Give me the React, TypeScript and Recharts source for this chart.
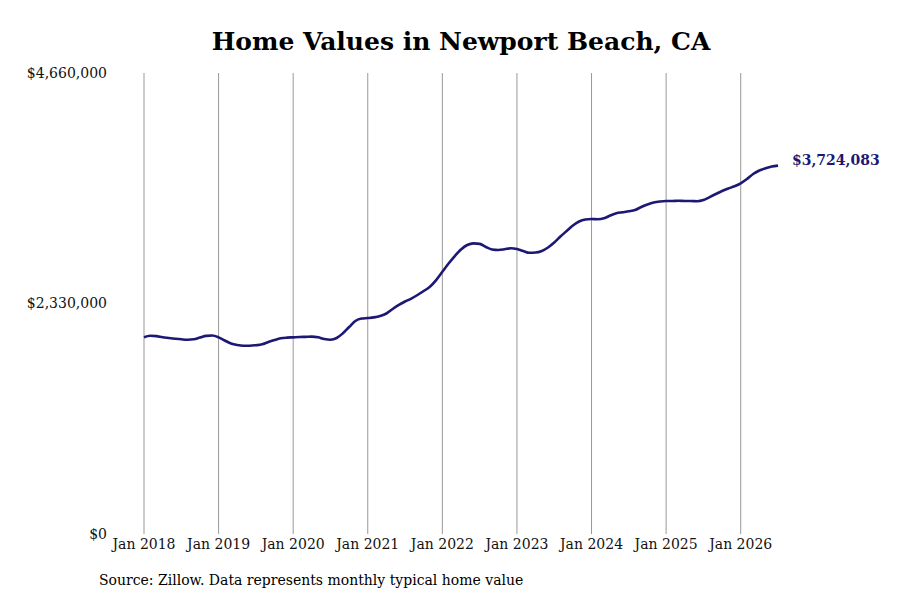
import React from "react";
import { LineChart, Line, XAxis, YAxis, ReferenceLine } from "recharts";

const startYear = 2018;
// Monthly typical home value, Jan 2018 .. Jul 2026
const values: number[] = [
  1988000, 2004000, 2000000, 1988000, 1981000, 1974000, 1968000, 1964000, 1968000, 1986000, 2003000, 2006000,
  1988000, 1956000, 1925000, 1910000, 1903000, 1903000, 1908000, 1917000, 1941000, 1961000, 1978000, 1985000,
  1988000, 1991000, 1993000, 1995000, 1988000, 1971000, 1964000, 1981000, 2029000, 2092000, 2153000, 2178000,
  2183000, 2190000, 2204000, 2229000, 2274000, 2315000, 2350000, 2380000, 2416000, 2456000, 2500000, 2567000,
  2651000, 2734000, 2810000, 2876000, 2921000, 2938000, 2933000, 2901000, 2876000, 2871000, 2878000, 2888000,
  2881000, 2861000, 2843000, 2845000, 2861000, 2896000, 2946000, 3007000, 3063000, 3118000, 3159000, 3179000,
  3184000, 3181000, 3191000, 3219000, 3242000, 3252000, 3262000, 3275000, 3305000, 3331000, 3351000, 3361000,
  3366000, 3366000, 3368000, 3366000, 3366000, 3364000, 3376000, 3406000, 3437000, 3467000, 3492000, 3515000,
  3545000, 3588000, 3639000, 3674000, 3697000, 3715000, 3724083,
];

const xTicks: number[] = [0, 12, 24, 36, 48, 60, 72, 84, 96];
const xTickLabels: string[] = [
  "Jan 2018", "Jan 2019", "Jan 2020", "Jan 2021", "Jan 2022",
  "Jan 2023", "Jan 2024", "Jan 2025", "Jan 2026",
];
const yTicks: number[] = [0, 2330000, 4660000];

const data = values.map((v, i) => ({ m: i, value: v }));
const lastIndex = values.length - 1;

const fmtMoney = (v: number) => "$" + Math.round(v).toLocaleString("en-US");
const SERIF = "'DejaVu Serif', serif";
const LINE_COLOR = "#1c1873";

const EndLabel = (props: any) => {
  const { x, y, index } = props;
  if (index !== lastIndex) return null;
  return (
    <text
      x={x + 14}
      y={y - 1}
      fill={LINE_COLOR}
      fontFamily={SERIF}
      fontWeight="bold"
      fontSize={14}
    >
      {fmtMoney(values[lastIndex])}
    </text>
  );
};

export default function App() {
  return (
    <div style={{ position: "absolute", left: 0, top: 0, width: 900, height: 600, background: "#fff" }}>
      <div
        style={{
          position: "absolute",
          left: 0,
          top: 26,
          width: 922,
          textAlign: "center",
          fontFamily: SERIF,
          fontWeight: "bold",
          fontSize: 25,
          color: "#000",
          lineHeight: "32px",
        }}
      >
        Home Values in Newport Beach, CA
      </div>
      <LineChart
        width={900}
        height={600}
        data={data}
        margin={{ top: 73, right: 122, bottom: 36, left: 0 }}
        style={{ fontFamily: SERIF }}
      >
        <XAxis
          dataKey="m"
          type="number"
          domain={[0, lastIndex]}
          ticks={xTicks}
          tickFormatter={(m: number) => xTickLabels[xTicks.indexOf(m)] ?? ""}
          axisLine={false}
          tickLine={false}
          tickSize={0}
          tickMargin={5}
          height={30}
          interval={0}
          tick={{ fill: "#111", fontSize: 14, fontFamily: SERIF }}
        />
        <YAxis
          type="number"
          domain={[0, 4660000]}
          ticks={yTicks}
          tickFormatter={fmtMoney}
          axisLine={false}
          tickLine={false}
          tickSize={0}
          tickMargin={37}
          width={144}
          interval={0}
          tick={{ fill: "#111", fontSize: 14, fontFamily: SERIF }}
        />
        {xTicks.map((t) => (
          <ReferenceLine key={t} x={t} stroke="#999" strokeWidth={1} ifOverflow="visible" />
        ))}
        <Line
          type="monotone"
          dataKey="value"
          stroke={LINE_COLOR}
          strokeWidth={2.6}
          dot={false}
          isAnimationActive={false}
          label={<EndLabel />}
        />
      </LineChart>
      <div
        style={{
          position: "absolute",
          left: 99,
          top: 572,
          fontFamily: SERIF,
          fontSize: 14,
          color: "#000",
          whiteSpace: "nowrap",
        }}
      >
        Source: Zillow. Data represents monthly typical home value
      </div>
    </div>
  );
}
